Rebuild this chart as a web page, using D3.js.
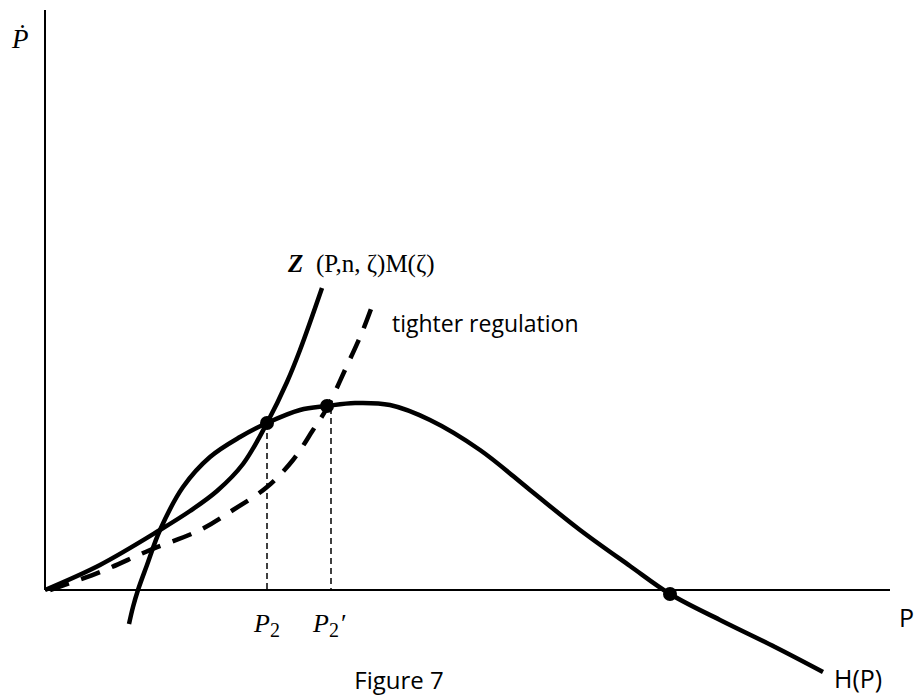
<!DOCTYPE html>
<html>
<head>
<meta charset="utf-8">
<script src="https://cdn.jsdelivr.net/npm/d3@7"></script>
<style>
  body { margin: 0; background: #fff; }
  svg { display: block; }
</style>
</head>
<body>
<script>
var width = 920,
    height = 700;

// valeurs (unites : decalage depuis l'origine)
var hCurve = [[84,-34],[88,-17],[93,0],[102,25],[115,60],[138,103],[165,133],[195,153],[222,167],
              [255,180],[282,184],[310,187],[345,185],[385,170],[435,140],[485,100],[535,60],
              [585,24],[625,-4],[675,-30],[730,-57],[778,-82]];
var zCurve = [[0,0],[55,25],[115,60],[145,79],[172,99],[198,126],[222,167],[242,208],[255,240],[277,302]];
var tightCurve = [[5,0],[55,18],[105,40],[155,60],[188,80],[222,103],[248,130],[268,160],[282,182],
                  [300,220],[318,260],[330,292]];
var eqPoints = [[222,167],[282,184],[625,-4]];
var dropLines = [[222,167],[286,182]];

var svg = d3.select("body")
    .append("svg")
    .attr("width", width)
    .attr("height", height);

var x = d3.scaleLinear().domain([0, 845]).range([45, 890]);
var y = d3.scaleLinear().domain([0, 580]).range([590, 10]);

// axes
svg.append("line")
    .attr("x1", x(0)).attr("y1", y(0))
    .attr("x2", x(0)).attr("y2", y(580))
    .attr("stroke", "#000").attr("stroke-width", 2);
svg.append("line")
    .attr("x1", x(0)).attr("y1", y(0))
    .attr("x2", x(845)).attr("y2", y(0))
    .attr("stroke", "#000").attr("stroke-width", 2);

// lignes pointillees verticales
svg.selectAll(".drop")
    .data(dropLines)
    .join("line")
    .attr("class", "drop")
    .attr("x1", d => x(d[0])).attr("x2", d => x(d[0]))
    .attr("y1", d => y(d[1])).attr("y2", y(0))
    .attr("stroke", "#000")
    .attr("stroke-width", 1.5)
    .attr("stroke-dasharray", "6,4");

var line = d3.line()
    .x(d => x(d[0]))
    .y(d => y(d[1]))
    .curve(d3.curveCatmullRom.alpha(0.5));

svg.append("path")
    .attr("d", line(hCurve))
    .attr("fill", "none").attr("stroke", "#000").attr("stroke-width", 4.5);

svg.append("path")
    .attr("d", line(zCurve))
    .attr("fill", "none").attr("stroke", "#000").attr("stroke-width", 4.5);

svg.append("path")
    .attr("d", line(tightCurve))
    .attr("fill", "none").attr("stroke", "#000").attr("stroke-width", 4.5)
    .attr("stroke-dasharray", "20,13");

svg.selectAll(".eq")
    .data(eqPoints)
    .join("circle")
    .attr("class", "eq")
    .attr("cx", d => x(d[0]))
    .attr("cy", d => y(d[1]))
    .attr("r", 7)
    .attr("fill", "#000");

// textes
var serif = "'Liberation Serif', 'DejaVu Serif', serif";
var sans = "'Open Sans', 'Noto Sans', sans-serif";

svg.append("text")
    .attr("x", 12).attr("y", 48)
    .style("font-family", serif).style("font-style", "italic").style("font-size", "27px")
    .text("\u1E56");

var p2 = svg.append("text")
    .attr("x", 254).attr("y", 632)
    .style("font-family", serif).style("font-style", "italic").style("font-size", "26px");
p2.append("tspan").text("P");
p2.append("tspan").attr("dy", 5).style("font-size", "20px").style("font-style", "normal").text("2");

var p2b = svg.append("text")
    .attr("x", 313).attr("y", 632)
    .style("font-family", serif).style("font-style", "italic").style("font-size", "26px");
p2b.append("tspan").text("P");
p2b.append("tspan").attr("dy", 5).style("font-size", "20px").style("font-style", "normal").text("2");
p2b.append("tspan").attr("dy", -5).attr("dx", 2).style("font-style", "normal").text("\u2032");

svg.append("text")
    .attr("x", 288).attr("y", 272)
    .style("font-family", serif).style("font-size", "25px")
    .style("font-weight", "bold").style("font-style", "italic")
    .text("Z");
svg.append("text")
    .attr("x", 316).attr("y", 272)
    .style("font-family", serif).style("font-size", "25px")
    .text("(P,n, \u03B6)M(\u03B6)");

svg.append("text")
    .attr("x", 392).attr("y", 332)
    .style("font-family", sans).style("font-size", "23px")
    .text("tighter regulation");

svg.append("text")
    .attr("x", 899).attr("y", 627)
    .style("font-family", sans).style("font-size", "25px")
    .text("P");

svg.append("text")
    .attr("x", 834).attr("y", 688)
    .style("font-family", sans).style("font-size", "25px")
    .text("H(P)");

svg.append("text")
    .attr("x", 399).attr("y", 689)
    .attr("text-anchor", "middle")
    .style("font-family", sans).style("font-size", "24px")
    .text("Figure 7");
</script>
</body>
</html>
